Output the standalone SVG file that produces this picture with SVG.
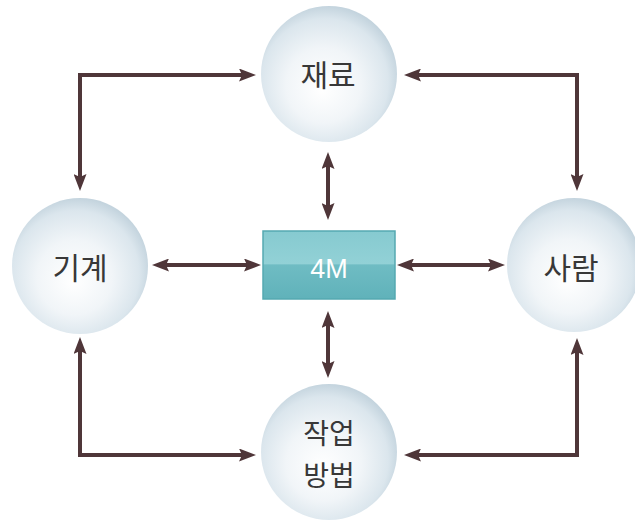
<svg xmlns="http://www.w3.org/2000/svg" width="635" height="526" viewBox="0 0 635 526">
<defs>
<radialGradient id="sph" cx="0.47" cy="0.55" r="0.55" fx="0.45" fy="0.62">
<stop offset="0" stop-color="#ffffff"/>
<stop offset="0.5" stop-color="#f1f5f8"/>
<stop offset="0.85" stop-color="#dbe6ed"/>
<stop offset="1" stop-color="#c4d4de"/>
</radialGradient>
<linearGradient id="box" x1="0" y1="0" x2="0" y2="1">
<stop offset="0" stop-color="#86cad0"/>
<stop offset="0.48" stop-color="#92d1d6"/>
<stop offset="0.5" stop-color="#6fbcc3"/>
<stop offset="1" stop-color="#60b2ba"/>
</linearGradient>
<marker id="ah" viewBox="0 0 17 13" markerWidth="17" markerHeight="13" refX="7" refY="6.5" orient="auto-start-reverse" markerUnits="userSpaceOnUse">
<path d="M0,0 L17,6.5 L0,13 L3,6.5 z" fill="#4f3639"/>
</marker>
<style>
.sphere{fill:url(#sph);}
.lbl{font-family:"Noto Sans CJK KR","Noto Sans",sans-serif;font-size:30px;fill:#383838;text-anchor:middle;}
.lbl2{font-size:28px;}
.conn{fill:none;stroke:#4f3639;stroke-width:4;marker-start:url(#ah);marker-end:url(#ah);}
</style>
</defs>
<rect width="635" height="526" fill="#ffffff"/>
<g id="connectors">
<path class="conn" d="M246,75 H80 V181"/>
<path class="conn" d="M414,75 H577 V181"/>
<path class="conn" d="M80,347 V455 H246"/>
<path class="conn" d="M577,348 V455 H414"/>
<path class="conn" d="M328,162 V210"/>
<path class="conn" d="M328,321 V368"/>
<path class="conn" d="M162,265 H251"/>
<path class="conn" d="M407,265 H495"/>
</g>
<g id="node-material">
<circle class="sphere" cx="329" cy="74" r="68"/>
<text class="lbl" x="328" y="86">재료</text>
</g>
<g id="node-machine">
<circle class="sphere" cx="80" cy="266" r="68"/>
<text class="lbl" x="80" y="279">기계</text>
</g>
<g id="node-man">
<circle class="sphere" cx="574" cy="265" r="67"/>
<text class="lbl" x="571" y="279">사람</text>
</g>
<g id="node-method">
<circle class="sphere" cx="329" cy="452" r="68"/>
<text class="lbl lbl2" x="329" y="444">작업</text>
<text class="lbl lbl2" x="329" y="485.5">방법</text>
</g>
<g id="node-4m">
<rect x="263" y="231" width="132" height="68" fill="url(#box)" stroke="#55a9b1" stroke-width="1.5"/>
<text x="329" y="278" font-family="'Liberation Sans',Arial,sans-serif" font-size="27" fill="#ffffff" text-anchor="middle">4M</text>
</g>
</svg>
